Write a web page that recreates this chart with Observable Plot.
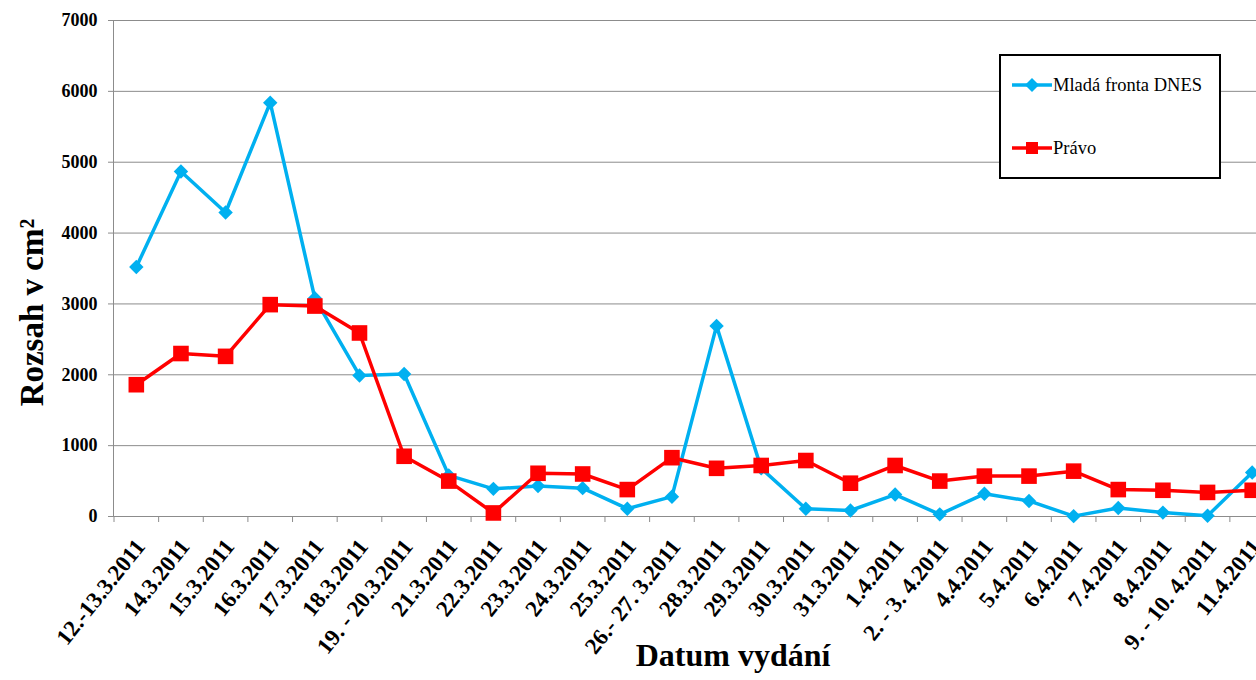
<!DOCTYPE html>
<html><head><meta charset="utf-8">
<script src="https://cdn.jsdelivr.net/npm/d3@7"></script>
<script src="https://cdn.jsdelivr.net/npm/@observablehq/plot@0.6"></script>
<style>
body{margin:0;background:#fff;}
#wrap{position:relative;width:1256px;height:680px;overflow:hidden;background:#fff;}
#legend{position:absolute;left:999px;top:54px;width:218px;height:121px;border:2px solid #000;background:#fff;font-family:"Liberation Serif","Times New Roman","DejaVu Serif",serif;font-size:18.5px;color:#000;}
.item{position:absolute;left:0;height:24px;display:flex;align-items:center;white-space:nowrap;}
.item svg{display:block;margin-left:11px;margin-right:1px;}
</style></head><body>
<div id="wrap"><div id="chart"></div><div id="legend"></div></div>
<script>
const categories = ["12.-13.3.2011","14.3.2011","15.3.2011","16.3.2011","17.3.2011","18.3.2011","19. - 20.3.2011","21.3.2011","22.3.2011","23.3.2011","24.3.2011","25.3.2011","26.- 27. 3.2011","28.3.2011","29.3.2011","30.3.2011","31.3.2011","1.4.2011","2. - 3. 4.2011","4.4.2011","5.4.2011","6.4.2011","7.4.2011","8.4.2011","9. - 10. 4.2011","11.4.2011"];
const mfDnes = [3520,4870,4290,5840,3080,1990,2010,580,390,430,400,110,280,2690,680,110,85,310,30,320,220,5,120,55,10,620];
const pravo = [1860,2300,2260,2990,2970,2590,850,500,50,610,600,380,830,680,720,790,470,720,500,570,570,640,380,370,340,370];
const yTicks = [0,1000,2000,3000,4000,5000,6000,7000];
const seriesNames = ["Mladá fronta DNES","Právo"];
const seriesColors = ["#00B0F0","#FF0000"];
const seriesSymbols = ["diamond2","square"];

const rows = [];
[mfDnes, pravo].forEach((vals, s) => vals.forEach((v, i) => rows.push({date: categories[i], value: v, series: seriesNames[s]})));

const gray = "#8c8c8c";
const serif = "'Liberation Serif','Times New Roman','DejaVu Serif',serif";
const xRange = [113.5, 1274];
const bw = (xRange[1] - xRange[0]) / categories.length;

const marks = [
  Plot.gridY(yTicks, {stroke: gray, strokeOpacity: 1}),
  Plot.ruleY([0], {stroke: gray}),
  Plot.frame({anchor: "left", stroke: gray}),
  Plot.axisY(yTicks, {tickSize: 5, tickPadding: 11, fontSize: 18, fontWeight: "bold", stroke: gray, fill: "#000", label: null, tickFormat: d => `${d}`}),
  Plot.axisX(categories, {tickSize: 6, dx: -bw / 2, stroke: gray, label: null, tickFormat: () => ""}),
  Plot.axisX(categories, {tickSize: 0, tickPadding: 3, tickRotate: -51.5, fontSize: 23, fontWeight: "bold", fill: "#000", label: null, dx: 4, dy: 23}),
];
seriesNames.forEach((name, s) => {
  const data = rows.filter(r => r.series === name);
  marks.push(Plot.line(data, {x: "date", y: "value", stroke: seriesColors[s], strokeWidth: 3.5}));
  marks.push(Plot.dot(data, {x: "date", y: "value", symbol: seriesSymbols[s], r: s === 0 ? 6.5 : 8.8, fill: seriesColors[s], stroke: "none"}));
});
marks.push(Plot.text(["Rozsah v cm²"], {frameAnchor: "left", textAnchor: "middle", rotate: -90, dx: -81, dy: 44, fontSize: 33, fontWeight: "bold", fill: "#000"}));
marks.push(Plot.text(["Datum vydání"], {frameAnchor: "bottom", textAnchor: "middle", dx: 48, dy: 149, fontSize: 32, fontWeight: "bold", fill: "#000"}));

const chart = Plot.plot({
  width: 1256, height: 680,
  marginLeft: 113, marginRight: 0, marginTop: 20, marginBottom: 164,
  style: {fontFamily: serif, background: "#fff", color: "#000", overflow: "hidden"},
  x: {type: "band", domain: categories, range: xRange, padding: 0, round: false},
  y: {domain: [0, 7000], range: [516, 20]},
  marks
});
document.getElementById("chart").appendChild(chart);

const legend = document.getElementById("legend");
seriesNames.forEach((name, s) => {
  const item = document.createElement("div");
  item.className = "item";
  item.style.top = (s === 0 ? 17 : 80) + "px";
  const sym = s === 0
    ? `<polygon points="20,5 27,12 20,19 13,12" fill="${seriesColors[s]}"/>`
    : `<rect x="14" y="6" width="12" height="12" fill="${seriesColors[s]}"/>`;
  item.innerHTML = `<svg width="40" height="24"><line x1="0" x2="40" y1="12" y2="12" stroke="${seriesColors[s]}" stroke-width="3.5"/>${sym}</svg><span>${name}</span>`;
  legend.appendChild(item);
});
</script>
</body></html>
